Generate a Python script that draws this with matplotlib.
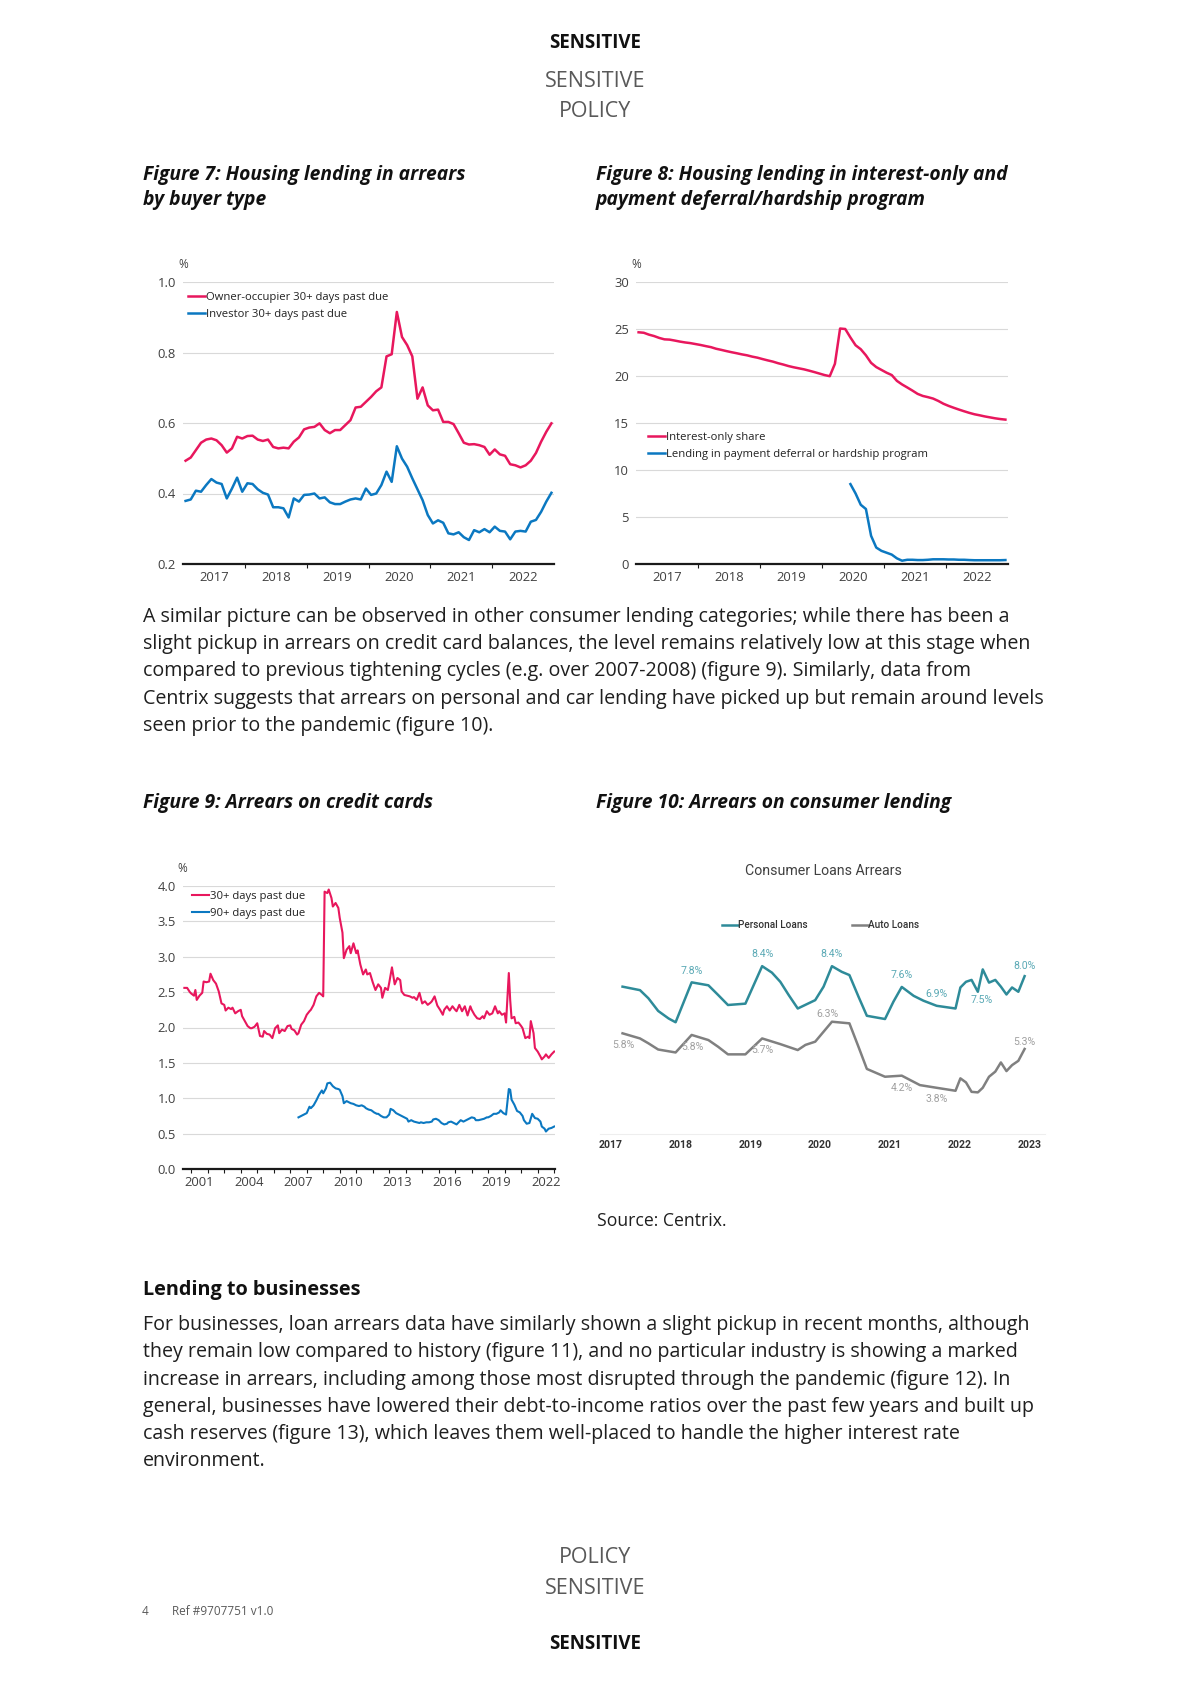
import matplotlib
matplotlib.use("Agg")
import matplotlib.pyplot as plt
import numpy as np

W, H = 1190, 1684
plt.rcParams["font.family"] = ["Open Sans", "DejaVu Sans"]

PINK = "#e8175d"
BLUE = "#0b78c1"

# Figure 7: housing lending in arrears, monthly Jan 2017 - Dec 2022 (%)
owner_occupier = [
    0.493, 0.502, 0.523, 0.544, 0.553, 0.556, 0.551, 0.537, 0.516, 0.528,
    0.561, 0.556, 0.563, 0.564, 0.553, 0.549, 0.553, 0.532, 0.528, 0.530,
    0.528, 0.547, 0.559, 0.582, 0.587, 0.589, 0.599, 0.580, 0.571, 0.580,
    0.580, 0.594, 0.608, 0.644, 0.646, 0.660, 0.674, 0.690, 0.701, 0.789,
    0.795, 0.915, 0.844, 0.821, 0.789, 0.669, 0.701, 0.650, 0.636, 0.638,
    0.603, 0.603, 0.597, 0.571, 0.544, 0.539, 0.540, 0.537, 0.532, 0.510,
    0.525, 0.511, 0.507, 0.483, 0.480, 0.474, 0.480, 0.493, 0.515, 0.547,
    0.575, 0.599]
investor = [
    0.379, 0.383, 0.408, 0.405, 0.424, 0.441, 0.431, 0.427, 0.386, 0.414,
    0.445, 0.405, 0.429, 0.427, 0.412, 0.402, 0.397, 0.361, 0.361, 0.358,
    0.332, 0.386, 0.377, 0.396, 0.397, 0.400, 0.386, 0.389, 0.375, 0.370,
    0.370, 0.377, 0.383, 0.386, 0.383, 0.414, 0.396, 0.400, 0.424, 0.462,
    0.433, 0.534, 0.499, 0.476, 0.443, 0.412, 0.381, 0.339, 0.315, 0.324,
    0.317, 0.287, 0.284, 0.290, 0.276, 0.268, 0.296, 0.290, 0.299, 0.290,
    0.306, 0.294, 0.292, 0.270, 0.292, 0.294, 0.292, 0.320, 0.325, 0.348,
    0.377, 0.402]

# Figure 8: interest-only share (monthly from Jan 2017) and deferral (from Jun 2020)
interest_only = [
    24.65, 24.60, 24.40, 24.25, 24.05, 23.90, 23.87, 23.77, 23.66, 23.57,
    23.50, 23.40, 23.30, 23.18, 23.07, 22.90, 22.78, 22.65, 22.53, 22.42,
    22.30, 22.20, 22.06, 21.95, 21.80, 21.66, 21.53, 21.36, 21.22, 21.06,
    20.93, 20.82, 20.71, 20.57, 20.42, 20.26, 20.10, 19.98, 21.30, 25.05,
    25.00, 24.10, 23.27, 22.85, 22.20, 21.40, 20.95, 20.65, 20.35, 20.10,
    19.48, 19.10, 18.78, 18.45, 18.10, 17.88, 17.75, 17.60, 17.35, 17.05,
    16.82, 16.62, 16.43, 16.25, 16.08, 15.93, 15.82, 15.70, 15.60, 15.50,
    15.42, 15.36]
deferral_start_month = 41
deferral = [
    8.5, 7.5, 6.3, 5.85, 3.0, 1.75, 1.4, 1.2, 1.0, 0.6, 0.35,
    0.45, 0.45, 0.42, 0.42, 0.45, 0.5, 0.5, 0.5, 0.48, 0.48,
    0.45, 0.45, 0.42, 0.4, 0.4, 0.4, 0.4, 0.4, 0.4, 0.42]

# Figure 9: credit card arrears; months counted from Jan 2000
cc30_months = [
    7, 9, 11, 12, 14, 15, 16, 18, 20, 21, 23, 25, 26, 28, 30, 32, 34, 36, 37, 39,
    41, 42, 44, 46, 48, 49, 51, 53, 55, 56, 58, 60, 62, 64, 65, 67, 69, 71, 73, 75,
    76, 78, 80, 82, 84, 85, 87, 89, 90, 92, 94, 96, 98, 99, 101, 103, 105, 107, 108, 109,
    111, 112, 114, 115, 117, 119, 120, 122, 123, 125, 127, 128, 130, 132, 133, 135, 137, 139, 140, 142,
    144, 146, 148, 150, 151, 153, 155, 156, 158, 160, 162, 164, 165, 167, 169, 171, 173, 174, 176, 178,
    180, 182, 184, 186, 187, 189, 191, 193, 195, 196, 198, 200, 202, 204, 205, 207, 209, 211, 213, 215,
    216, 218, 220, 222, 224, 225, 227, 229, 231, 233, 235, 236, 238, 240, 241, 243, 244, 245, 247, 248,
    250, 252, 253, 255, 257, 258, 259, 261, 262, 264, 266, 267, 269, 270, 272, 274, 276]
cc30 = [
    2.56, 2.56, 2.50, 2.48, 2.45, 2.53, 2.39, 2.45, 2.49, 2.65,
    2.64, 2.65, 2.76, 2.67, 2.62, 2.51, 2.34, 2.32, 2.24, 2.28,
    2.26, 2.28, 2.20, 2.23, 2.25, 2.16, 2.09, 2.02, 1.99, 1.99,
    2.01, 2.06, 1.88, 1.87, 1.95, 1.91, 1.90, 1.85, 1.99, 2.03,
    1.92, 1.97, 1.95, 2.02, 2.03, 1.98, 1.96, 1.90, 1.92, 2.04,
    2.09, 2.18, 2.23, 2.25, 2.32, 2.44, 2.49, 2.46, 2.44, 3.92,
    3.90, 3.95, 3.83, 3.71, 3.76, 3.69, 3.55, 3.34, 2.98, 3.10,
    3.15, 3.05, 3.19, 3.05, 3.09, 2.89, 2.75, 2.82, 2.75, 2.77,
    2.64, 2.53, 2.61, 2.56, 2.42, 2.56, 2.53, 2.63, 2.85, 2.61,
    2.70, 2.67, 2.51, 2.46, 2.45, 2.44, 2.42, 2.43, 2.39, 2.49,
    2.34, 2.37, 2.32, 2.35, 2.37, 2.44, 2.31, 2.25, 2.18, 2.25,
    2.30, 2.24, 2.30, 2.25, 2.23, 2.32, 2.23, 2.30, 2.17, 2.30,
    2.25, 2.18, 2.13, 2.12, 2.16, 2.13, 2.23, 2.18, 2.20, 2.30,
    2.20, 2.23, 2.18, 2.20, 2.07, 2.77, 2.39, 2.13, 2.15, 2.06,
    2.07, 2.02, 1.99, 1.85, 1.87, 1.85, 2.09, 1.92, 1.71, 1.66,
    1.59, 1.55, 1.59, 1.62, 1.57, 1.62, 1.66]
cc90_months = [
    90, 92, 94, 96, 98, 99, 101, 103, 105, 107, 108, 110, 111, 113, 115, 117, 119, 120, 122, 123,
    125, 127, 128, 130, 132, 134, 136, 138, 139, 141, 143, 145, 147, 148, 150, 152, 154, 156, 157, 159,
    161, 163, 165, 167, 169, 170, 172, 174, 176, 178, 179, 181, 183, 185, 187, 188, 190, 192, 194, 196,
    198, 199, 201, 203, 205, 207, 208, 210, 212, 214, 216, 218, 219, 221, 223, 225, 227, 228, 230, 232,
    234, 236, 237, 239, 241, 243, 244, 245, 247, 249, 251, 253, 254, 256, 258, 260, 262, 264, 266, 267,
    269, 270, 272, 274, 276]
cc90 = [
    0.73, 0.75, 0.77, 0.79, 0.88, 0.86, 0.90, 0.97, 1.05, 1.11,
    1.07, 1.14, 1.21, 1.22, 1.17, 1.14, 1.13, 1.12, 1.03, 0.93,
    0.96, 0.94, 0.93, 0.92, 0.90, 0.89, 0.90, 0.88, 0.86, 0.84,
    0.83, 0.80, 0.78, 0.78, 0.75, 0.73, 0.73, 0.77, 0.85, 0.83,
    0.79, 0.77, 0.75, 0.73, 0.71, 0.67, 0.69, 0.67, 0.66, 0.65,
    0.66, 0.65, 0.66, 0.66, 0.67, 0.70, 0.71, 0.69, 0.65, 0.63,
    0.64, 0.66, 0.67, 0.65, 0.63, 0.67, 0.69, 0.67, 0.69, 0.71,
    0.73, 0.72, 0.69, 0.69, 0.70, 0.71, 0.73, 0.73, 0.75, 0.78,
    0.78, 0.80, 0.83, 0.79, 0.77, 1.13, 1.12, 0.98, 0.91, 0.82,
    0.80, 0.75, 0.69, 0.64, 0.65, 0.78, 0.72, 0.71, 0.67, 0.60,
    0.57, 0.53, 0.57, 0.58, 0.60]

# Figure 10: Centrix consumer loans arrears (%), dates as decimal years
personal_t = [
    2017.17, 2017.42, 2017.54, 2017.68, 2017.83, 2017.93, 2018.16, 2018.40, 2018.54, 2018.68,
    2018.93, 2019.17, 2019.31, 2019.43, 2019.55, 2019.68, 2019.93, 2020.05, 2020.17, 2020.31,
    2020.42, 2020.55, 2020.67, 2020.93, 2021.05, 2021.17, 2021.34, 2021.48, 2021.67, 2021.94,
    2022.01, 2022.09, 2022.17, 2022.26, 2022.33, 2022.42, 2022.51, 2022.59, 2022.67, 2022.75,
    2022.84, 2022.93]
personal = [
    7.66, 7.53, 7.23, 6.76, 6.48, 6.34, 7.82, 7.71, 7.35, 6.98,
    7.03, 8.42, 8.18, 7.84, 7.35, 6.85, 7.16, 7.66, 8.42, 8.21,
    8.09, 7.29, 6.58, 6.46, 7.10, 7.65, 7.32, 7.14, 6.95, 6.85,
    7.63, 7.84, 7.91, 7.47, 8.30, 7.81, 7.91, 7.66, 7.37, 7.63,
    7.47, 8.05]
auto_t = [
    2017.17, 2017.42, 2017.54, 2017.68, 2017.93, 2018.16, 2018.40, 2018.54, 2018.68, 2018.93,
    2019.17, 2019.43, 2019.68, 2019.79, 2019.93, 2020.05, 2020.17, 2020.42, 2020.55, 2020.67,
    2020.93, 2021.17, 2021.43, 2021.67, 2021.94, 2022.01, 2022.09, 2022.17, 2022.26, 2022.33,
    2022.42, 2022.51, 2022.59, 2022.67, 2022.75, 2022.84, 2022.93]
auto = [
    5.93, 5.74, 5.56, 5.33, 5.22, 5.87, 5.68, 5.43, 5.15, 5.15,
    5.74, 5.53, 5.31, 5.50, 5.62, 5.99, 6.36, 6.30, 5.43, 4.61,
    4.32, 4.36, 4.01, 3.91, 3.80, 4.26, 4.11, 3.76, 3.74, 3.91,
    4.32, 4.51, 4.85, 4.53, 4.75, 4.91, 5.35]
personal_label_idx = [6, 11, 18, 25, 28, 33, 41]
personal_label_txt = ["7.8%", "8.4%", "8.4%", "7.6%", "6.9%", "7.5%", "8.0%"]
auto_label_idx = [0, 5, 10, 16, 21, 23, 36]
auto_label_txt = ["5.8%", "5.8%", "5.7%", "6.3%", "4.2%", "3.8%", "5.3%"]

para1 = [
    "A similar picture can be observed in other consumer lending categories; while there has been a",
    "slight pickup in arrears on credit card balances, the level remains relatively low at this stage when",
    "compared to previous tightening cycles (e.g. over 2007-2008) (figure 9). Similarly, data from",
    "Centrix suggests that arrears on personal and car lending have picked up but remain around levels",
    "seen prior to the pandemic (figure 10).",
]
para2 = [
    "For businesses, loan arrears data have similarly shown a slight pickup in recent months, although",
    "they remain low compared to history (figure 11), and no particular industry is showing a marked",
    "increase in arrears, including among those most disrupted through the pandemic (figure 12). In",
    "general, businesses have lowered their debt-to-income ratios over the past few years and built up",
    "cash reserves (figure 13), which leaves them well-placed to handle the higher interest rate",
    "environment.",
]

fig = plt.figure(figsize=(W / 100, H / 100), dpi=100)
fig.patch.set_facecolor("white")


def px_axes(left, top, right, bottom):
    return fig.add_axes([left / W, 1 - bottom / H, (right - left) / W, (bottom - top) / H])


def put(x, y, s, **kw):
    kw.setdefault("va", "baseline")
    fig.text(x / W, 1 - y / H, s, **kw)


def style_chart(ax, ylim, yticks, fmt, xlim, major, label_pos, label_txt):
    ax.set_ylim(*ylim)
    ax.set_yticks(yticks)
    ax.set_yticklabels([fmt % v for v in yticks])
    ax.set_xlim(*xlim)
    ax.set_xticks(major)
    ax.set_xticks(label_pos, labels=label_txt, minor=True)
    ax.grid(axis="y", color="#d9d9d9", lw=0.8)
    ax.set_axisbelow(True)
    for s in ["top", "right", "left"]:
        ax.spines[s].set_visible(False)
    ax.spines["bottom"].set_linewidth(1.6)
    ax.spines["bottom"].set_color("#1a1a1a")
    ax.tick_params(axis="y", length=0, pad=5, labelsize=9.4, labelcolor="#404040")
    ax.tick_params(axis="x", which="major", length=3, width=0.8, color="#1a1a1a",
                   labelbottom=False)
    ax.tick_params(axis="x", which="minor", length=0, pad=5, labelsize=9.4,
                   labelcolor="#404040")


def small_legend(ax, x, y):
    ax.legend(loc="upper left", bbox_to_anchor=(x / W, 1 - y / H),
              bbox_transform=fig.transFigure, frameon=False, fontsize=8.1,
              handlelength=1.5, handletextpad=0.1, labelspacing=0.5,
              borderpad=0, borderaxespad=0, labelcolor="#222222")


# header
put(595, 48, "SENSITIVE", ha="center", fontsize=13.5, weight="bold", color="#111111")
put(595, 87, "SENSITIVE", ha="center", fontsize=15.5, color="#595959")
put(595, 117, "POLICY", ha="center", fontsize=15.5, color="#595959")

TITLE = dict(fontsize=13.9, weight="bold", style="italic", color="#111111")
put(143, 180, "Figure 7: Housing lending in arrears", **TITLE)
put(143, 205, "by buyer type", **TITLE)
put(596, 180, "Figure 8: Housing lending in interest-only and", **TITLE)
put(596, 205, "payment deferral/hardship program", **TITLE)

# Figure 7
years17 = [2017, 2018, 2019, 2020, 2021, 2022]
x7 = 2017 + (np.arange(len(owner_occupier)) + 0.5) / 12
ax7 = px_axes(183, 282, 554, 564)
ax7.plot(x7, owner_occupier, color=PINK, lw=1.8, label="Owner-occupier 30+ days past due")
ax7.plot(x7, investor, color=BLUE, lw=1.8, label="Investor 30+ days past due")
style_chart(ax7, (0.2, 1.0), [0.2, 0.4, 0.6, 0.8, 1.0], "%.1f", (2017, 2023),
            years17[1:], [y + 0.5 for y in years17], [str(y) for y in years17])
small_legend(ax7, 188, 292)
put(183, 268, "%", ha="center", fontsize=8.5, color="#404040")

# Figure 8
x8 = 2017 + (np.arange(len(interest_only)) + 0.5) / 12
xd = 2017 + (np.arange(len(deferral)) + deferral_start_month + 0.5) / 12
ax8 = px_axes(636, 282, 1008, 564)
ax8.plot(x8, interest_only, color=PINK, lw=1.8, label="Interest-only share")
ax8.plot(xd, deferral, color=BLUE, lw=1.8,
         label="Lending in payment deferral or hardship program")
style_chart(ax8, (0, 30), [0, 5, 10, 15, 20, 25, 30], "%d", (2017, 2023),
            years17[1:], [y + 0.5 for y in years17], [str(y) for y in years17])
small_legend(ax8, 648, 432)
put(636, 268, "%", ha="center", fontsize=8.5, color="#404040")

# paragraph 1
BODY = dict(fontsize=14.1, color="#1f1f1f")
for i, line in enumerate(para1):
    put(143, 622 + i * 27.2, line, **BODY)

put(143, 808, "Figure 9: Arrears on credit cards", **TITLE)
put(596, 808, "Figure 10: Arrears on consumer lending", **TITLE)

# Figure 9
years9 = list(range(2001, 2023, 3))
ax9 = px_axes(183, 886, 555, 1169)
ax9.plot(2000 + np.array(cc30_months) / 12, cc30, color=PINK, lw=1.5, label="30+ days past due")
ax9.plot(2000 + np.array(cc90_months) / 12, cc90, color=BLUE, lw=1.5, label="90+ days past due")
style_chart(ax9, (0, 4), [0, 0.5, 1.0, 1.5, 2.0, 2.5, 3.0, 3.5, 4.0], "%.1f", (2000.5, 2023.05),
            list(range(2001, 2024)), [y + 0.5 for y in years9], [str(y) for y in years9])
small_legend(ax9, 192, 891)
put(182, 872, "%", ha="center", fontsize=8.5, color="#404040")

# Figure 10
RB = ["Roboto", "DejaVu Sans"]
ax10 = px_axes(600, 900, 1045, 1134)
ax10.plot(personal_t, personal, color="#2e8b99", lw=1.8, label="Personal Loans")
ax10.plot(auto_t, auto, color="#808080", lw=1.8, label="Auto Loans")
ax10.set_xlim(2016.847, 2023.222)
ax10.set_ylim(2.197, 10.873)
ax10.set_yticks([])
ax10.set_xticks(range(2017, 2024))
ax10.set_xticklabels([str(y) for y in range(2017, 2024)], family=RB, weight="bold",
                     fontsize=7.6, color="#333333")
ax10.tick_params(axis="x", length=0, pad=4)
for s in ["top", "right", "left"]:
    ax10.spines[s].set_visible(False)
ax10.spines["bottom"].set_color("#eeeeee")
ax10.spines["bottom"].set_linewidth(0.8)

personal_offsets = [(0, 8.4), (0, 8.4), (0, 8.4), (0, 8.4), (0, 8.4), (3, -6), (0, 7.4)]
for i, txt, off in zip(personal_label_idx, personal_label_txt, personal_offsets):
    ax10.annotate(txt, (personal_t[i], personal[i]), xytext=off, textcoords="offset points",
                  ha="center", va="center", fontsize=7.6, family=RB, color="#5aa9b5")
auto_offsets = [(0.7, -8.4), (0.7, -8.4), (0, -8.4), (-3, 5.5), (0, -8.6), (0, -8.4), (0, 5.3)]
for i, txt, off in zip(auto_label_idx, auto_label_txt, auto_offsets):
    ax10.annotate(txt, (auto_t[i], auto[i]), xytext=off, textcoords="offset points",
                  ha="center", va="center", fontsize=7.6, family=RB, color="#a0a0a0")

ax10.legend(loc="center", bbox_to_anchor=(820.5 / W, 1 - 925 / H),
            bbox_transform=fig.transFigure, ncol=2, frameon=False,
            prop={"family": RB, "size": 7.2, "weight": "medium"},
            handlelength=1.6, handletextpad=0, columnspacing=4.5, labelcolor="#333333")
put(823, 875, "Consumer Loans Arrears", ha="center", fontsize=10.2, family=RB, color="#404040")

put(597, 1226, "Source: Centrix.", fontsize=12.7, color="#1f1f1f")

# lending to businesses
put(143, 1295, "Lending to businesses", fontsize=14.3, weight="bold", color="#111111")
for i, line in enumerate(para2):
    put(143, 1330 + i * 27.3, line, **BODY)

# footer
put(595, 1563, "POLICY", ha="center", fontsize=15.5, color="#595959")
put(595, 1594, "SENSITIVE", ha="center", fontsize=15.5, color="#595959")
put(142, 1615, "4", fontsize=8.5, color="#595959")
put(172, 1615, "Ref #9707751 v1.0", fontsize=8.5, color="#595959")
put(595, 1649, "SENSITIVE", ha="center", fontsize=13.5, weight="bold", color="#111111")

fig.savefig("out.png", dpi=100)
